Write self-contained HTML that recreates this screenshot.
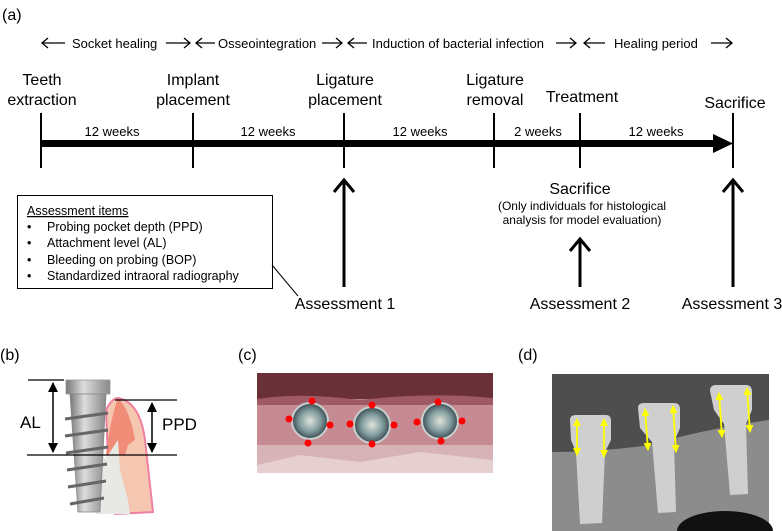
<!DOCTYPE html>
<html><head><meta charset="utf-8"><style>
body{margin:0;background:#fff}
svg{display:block;font-family:"Liberation Sans",Arial,sans-serif}
</style></head><body>
<svg width="782" height="531" viewBox="0 0 782 531" xmlns="http://www.w3.org/2000/svg">
<defs>
<marker id="yh" markerWidth="8" markerHeight="8" refX="7" refY="4" orient="auto-start-reverse" markerUnits="userSpaceOnUse"><path d="M0,0 L8,4 L0,8z" fill="#ff0"/></marker>
<marker id="bh" markerWidth="10" markerHeight="10" refX="9" refY="5" orient="auto-start-reverse" markerUnits="userSpaceOnUse"><path d="M0,0 L10,5 L0,10z" fill="#000"/></marker>
<linearGradient id="ti" x1="0" x2="1"><stop offset="0" stop-color="#777"/><stop offset=".4" stop-color="#ddd"/><stop offset="1" stop-color="#888"/></linearGradient>
<radialGradient id="sc"><stop offset="0" stop-color="#dfe3dc"/><stop offset=".6" stop-color="#7f9a9c"/><stop offset="1" stop-color="#3a4a50"/></radialGradient>
</defs>
<text x="2" y="20" font-size="16">(a)</text>
<g font-size="13">
<text x="72" y="48">Socket healing</text>
<text x="218" y="48">Osseointegration</text>
<text x="372" y="48">Induction of bacterial infection</text>
<text x="614" y="48">Healing period</text>
</g>
<g stroke="#000" stroke-width="1.3" fill="none">
<path d="M65,43 H42 M48,38 L42,43 L48,48"/>
<path d="M166,43 H190 M184,38 L190,43 L184,48"/>
<path d="M215,43 H196 M202,38 L196,43 L202,48"/>
<path d="M322,43 H342 M336,38 L342,43 L336,48"/>
<path d="M367,43 H348 M354,38 L348,43 L354,48"/>
<path d="M556,43 H576 M570,38 L576,43 L570,48"/>
<path d="M605,43 H584 M590,38 L584,43 L590,48"/>
<path d="M711,43 H732 M726,38 L732,43 L726,48"/>
</g>
<g font-size="16" text-anchor="middle">
<text x="42" y="85">Teeth</text><text x="42" y="105">extraction</text>
<text x="193" y="85">Implant</text><text x="193" y="105">placement</text>
<text x="345" y="85">Ligature</text><text x="345" y="105">placement</text>
<text x="495" y="85">Ligature</text><text x="495" y="105">removal</text>
<text x="582" y="102">Treatment</text>
<text x="735" y="108">Sacrifice</text>
<text x="580" y="194">Sacrifice</text>
<text x="345" y="309">Assessment 1</text>
<text x="580" y="309">Assessment 2</text>
<text x="732" y="309">Assessment 3</text>
</g>
<g font-size="13" text-anchor="middle">
<text x="112" y="136">12 weeks</text><text x="268" y="136">12 weeks</text>
<text x="420" y="136">12 weeks</text><text x="538" y="136">2 weeks</text>
<text x="656" y="136">12 weeks</text>
<text x="582" y="210" font-size="12">(Only individuals for histological</text>
<text x="582" y="224" font-size="12">analysis for model evaluation)</text>
</g>
<rect x="40" y="140" width="675" height="7" fill="#000"/>
<path d="M713,134 L733,143.5 L713,153z" fill="#000"/>
<g stroke="#000" stroke-width="2">
<path d="M41,113V168 M193,113V168 M344,113V168 M494,113V168 M580,113V168 M733,113V168"/>
</g>
<g stroke="#000" stroke-width="3" fill="none">
<path d="M344,287V182 M334,192L344,180L354,192"/>
<path d="M580,287V241 M570,251L580,239L590,251"/>
<path d="M733,287V182 M723,192L733,180L743,192"/>
</g>
<rect x="17.5" y="195.5" width="255" height="93" fill="#fff" stroke="#000" stroke-width="1"/>
<path d="M272,265 L298,296" stroke="#000" stroke-width="1"/>
<g font-size="12.5">
<text x="27" y="215" text-decoration="underline">Assessment items</text>
<text x="27" y="231">•</text><text x="47" y="231">Probing pocket depth (PPD)</text>
<text x="27" y="247">•</text><text x="47" y="247">Attachment level (AL)</text>
<text x="27" y="264">•</text><text x="47" y="264">Bleeding on probing (BOP)</text>
<text x="27" y="280">•</text><text x="47" y="280">Standardized intraoral radiography</text>
</g>
<text x="0" y="360" font-size="16">(b)</text>
<text x="238" y="360" font-size="16">(c)</text>
<text x="518" y="360" font-size="16">(d)</text>
<!-- b -->
<path d="M108,458 L106,410 Q112,398 118,398 Q140,402 145,440 L153,512 L115,514z" fill="#f5c6b0" stroke="#f080a0" stroke-width="2"/>
<path d="M106,455 Q110,420 118,398 Q130,410 135,440 L128,445 L125,455z" fill="#ef7d6a" opacity=".8"/>
<path d="M106,458 L118,440 L120,470 L128,500 L130,514 L96,514 L96,460z" fill="#e8e8e4"/>
<rect x="66" y="380" width="44" height="14" fill="url(#ti)" stroke="#999" stroke-width=".8"/>
<path d="M70,394 L106,394 L100,512 L78,512z" fill="url(#ti)" stroke="#888" stroke-width=".8"/>
<g stroke="#666" stroke-width="3">
<path d="M65,419 L108,413 M65,436 L108,430 M66,453 L108,447 M67,470 L107,464 M68,487 L106,481 M70,504 L104,498"/>
</g>
<g stroke="#000" stroke-width="1.2">
<path d="M28,380H64 M27,455H177 M115,400H177"/>
</g>
<line x1="53" y1="383" x2="53" y2="452" stroke="#000" stroke-width="1.5" marker-start="url(#bh)" marker-end="url(#bh)"/>
<line x1="152" y1="403" x2="152" y2="452" stroke="#000" stroke-width="1.5" marker-start="url(#bh)" marker-end="url(#bh)"/>
<text x="20" y="428" font-size="17">AL</text>
<text x="162" y="430" font-size="17">PPD</text>
<!-- c -->
<rect x="257" y="373" width="236" height="100" fill="#c58a92"/>
<rect x="257" y="373" width="236" height="26" fill="#6a3038"/>
<path d="M257,399 Q300,392 360,400 Q430,392 493,398 V405 H257z" fill="#a05a66"/>
<rect x="257" y="445" width="236" height="28" fill="#d7b3b7"/>
<path d="M257,465 L300,455 L360,462 L420,452 L493,460 V473 H257z" fill="#e6cfd0"/>
<g stroke="#c8d0d0" stroke-width="2">
<circle cx="310" cy="421" r="18" fill="url(#sc)"/><circle cx="372" cy="425" r="18" fill="url(#sc)"/><circle cx="440" cy="421" r="18" fill="url(#sc)"/>
</g>
<g fill="#f00">
<circle cx="312" cy="401" r="3.5"/><circle cx="289" cy="419" r="3.5"/><circle cx="330" cy="425" r="3.5"/><circle cx="308" cy="443" r="3.5"/>
<circle cx="372" cy="405" r="3.5"/><circle cx="350" cy="424" r="3.5"/><circle cx="394" cy="425" r="3.5"/><circle cx="372" cy="444" r="3.5"/>
<circle cx="438" cy="402" r="3.5"/><circle cx="417" cy="422" r="3.5"/><circle cx="462" cy="421" r="3.5"/><circle cx="441" cy="441" r="3.5"/>
</g>
<!-- d -->
<rect x="552" y="374" width="217" height="157" fill="#8c8c8c"/>
<path d="M552,374 H769 V420 Q700,430 650,445 Q600,452 552,452z" fill="#4e4e4e"/>
<ellipse cx="725" cy="531" rx="48" ry="20" fill="#111"/>
<g fill="#cfcfcf">
<path d="M570,420 Q570,415 576,415 L606,415 Q611,415 611,421 L611,440 L605,452 L602,523 L580,524 L576,452 L571,440z"/>
<path d="M638,408 Q638,403 644,403 L674,403 Q680,403 680,409 L680,428 L674,442 L676,512 L658,513 L652,442 L640,428z"/>
<path d="M710,391 Q710,385 716,385 L746,385 Q752,385 752,392 L752,410 L746,424 L748,494 L730,495 L724,424 L714,410z"/>
</g>
<g stroke="#ff0" stroke-width="1.8">
<line x1="577" y1="419" x2="577" y2="455" marker-start="url(#yh)" marker-end="url(#yh)"/>
<line x1="604" y1="419" x2="604" y2="457" marker-start="url(#yh)" marker-end="url(#yh)"/>
<line x1="645" y1="409" x2="648" y2="450" marker-start="url(#yh)" marker-end="url(#yh)"/>
<line x1="673" y1="406" x2="676" y2="452" marker-start="url(#yh)" marker-end="url(#yh)"/>
<line x1="719" y1="393" x2="722" y2="437" marker-start="url(#yh)" marker-end="url(#yh)"/>
<line x1="747" y1="388" x2="750" y2="432" marker-start="url(#yh)" marker-end="url(#yh)"/>
</g>
</svg>
</body></html>
